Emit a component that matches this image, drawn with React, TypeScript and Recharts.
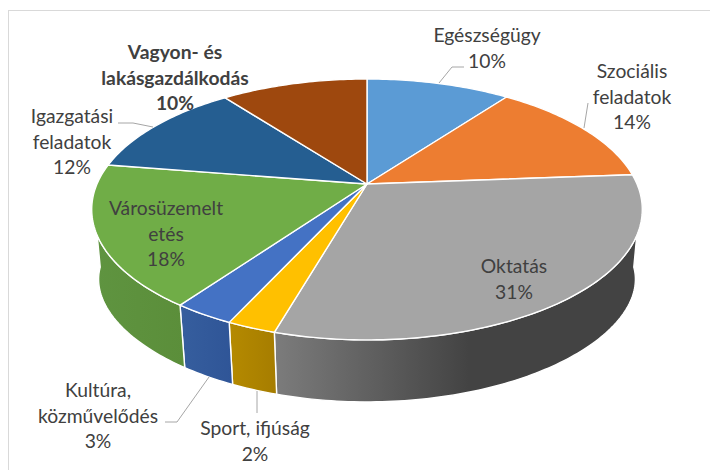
import React from 'react';
import { PieChart, Pie, Cell } from 'recharts';

const NAMES = [
  'Egészségügy',
  'Szociális feladatok',
  'Oktatás',
  'Sport, ifjúság',
  'Kultúra, közművelődés',
  'Városüzemeltetés',
  'Igazgatási feladatok',
  'Vagyon- és lakásgazdálkodás',
];
const VALUES = [10.2, 13.6, 30.7, 2.4, 3.0, 17.6, 12.1, 10.4];
const TOP_COLORS = ['#5B9BD5', '#ED7D31', '#A5A5A5', '#FFC000', '#4472C4', '#70AD47', '#255E91', '#9E480E'];

// wall shading per slice (left, right), only the front ones are ever seen
const WALL_STOPS = [
  ['#44739f', '#44739f'],
  ['#ae5a22', '#ae5a22'],
  ['#7c7c7c', '#434343'],
  ['#b58a00', '#a67d00'],
  ['#365e9e', '#2f5597'],
  ['#5f9440', '#5b8e3a'],
  ['#1b4469', '#1b4469'],
  ['#733409', '#733409'],
];

const LABEL_LINES = [
  ['Egészségügy'],
  ['Szociális', 'feladatok'],
  ['Oktatás'],
  ['Sport, ifjúság'],
  ['Kultúra,', 'közművelődés'],
  ['Városüzemelt', 'etés'],
  ['Igazgatási', 'feladatok'],
  ['Vagyon- és', 'lakásgazdálkodás'],
];
const LABEL_CENTER_X = [487, 632, 514, 255, 98, 166, 72, 175];
const LABEL_FIRST_BASELINE = [42, 78, 273, 435, 397, 215, 123, 59];
const LEADERS = [
  '464,67 452,67 439,83',
  '588,103 584,128',
  '',
  '257,391 257,413',
  '165,422 177,422 209,377',
  '',
  '118,123 133,123 153,127',
  '',
];

const CX = 367;
const CY = 184;
const RADIUS = 270;
const SQUASH_Y = 125.5;
const PERSPECTIVE = 0.195;
const DEPTH = 62;
const SIDE_DEPTH = 12;
const BOTTOM_SCALE = 0.975;
const LINE_HEIGHT = 25.7;

const chartData = NAMES.map((name, i) => ({ name, value: VALUES[i] }));

// circle angle (clockwise from 12 o'clock) to the tilted disc on screen
function project(theta: number, a: number, cx: number, cy: number) {
  const rad = (theta * Math.PI) / 180;
  const u = Math.sin(rad);
  const v = -Math.cos(rad);
  const w = 1 - PERSPECTIVE * v;
  return [cx + (a * u) / w, cy + (SQUASH_Y * v) / w];
}

function arcAngles(from: number, to: number) {
  const steps = Math.max(2, Math.ceil(Math.abs(to - from)));
  const out: number[] = [];
  for (let i = 0; i <= steps; i++) out.push(from + ((to - from) * i) / steps);
  return out;
}

const toPath = (pts: number[][]) =>
  'M' + pts.map(p => `${p[0].toFixed(2)},${p[1].toFixed(2)}`).join('L') + 'Z';

function TopSlice(props: any) {
  const { cx, cy, outerRadius, startAngle, endAngle, fill } = props;
  const arc = arcAngles(90 - startAngle, 90 - endAngle).map(t => project(t, outerRadius, cx, cy));
  return <path d={toPath([[cx, cy], ...arc])} fill={fill} stroke="#ffffff" strokeWidth={1.4} strokeLinejoin="round" />;
}

function WallSlice(props: any) {
  const { cx, cy, outerRadius, startAngle, endAngle, index } = props;
  const from = Math.max(90 - startAngle, 95);
  const to = Math.min(90 - endAngle, 265);
  if (to <= from) return null;
  const angles = arcAngles(from, to);
  const upper = angles.map(t => project(t, outerRadius, cx, cy));
  // the floor of the disc is a bit narrower and drops further at the sides
  const lower = angles
    .map((t, i) => {
      const flat = 1 - Math.abs(Math.cos((t * Math.PI) / 180));
      return [cx + (upper[i][0] - cx) * BOTTOM_SCALE, upper[i][1] + DEPTH + SIDE_DEPTH * flat * flat];
    })
    .reverse();
  const id = `wall-${index}`;
  const stops = WALL_STOPS[index];
  return (
    <g>
      <defs>
        <linearGradient id={id} x1="0" y1="0" x2="1" y2="0">
          <stop offset="0" stopColor={stops[0]} />
          <stop offset={index === 2 ? '0.53' : '1'} stopColor={stops[1]} />
          <stop offset="1" stopColor={stops[1]} />
        </linearGradient>
      </defs>
      <path d={toPath([...upper, ...lower])} fill={`url(#${id})`} stroke="#ffffff" strokeWidth={1.4} strokeLinejoin="round" />
    </g>
  );
}

function SliceLabel(props: any) {
  const { index, percent } = props;
  const lines = [...LABEL_LINES[index], `${Math.round(percent * 100)}%`];
  const bold = index === 7;
  return (
    <g>
      {LEADERS[index] && <polyline points={LEADERS[index]} fill="none" stroke="#a6a6a6" strokeWidth={1} />}
      <text
        textAnchor="middle"
        fontFamily="Lato, sans-serif"
        fontSize={19.3}
        fontWeight={bold ? 700 : 400}
        fill="#404040"
      >
        {lines.map((line, i) => (
          <tspan key={i} x={LABEL_CENTER_X[index]} y={LABEL_FIRST_BASELINE[index] + i * LINE_HEIGHT}>
            {line}
          </tspan>
        ))}
      </text>
    </g>
  );
}

export default function App() {
  return (
    <div style={{ position: 'absolute', left: 0, top: 0, width: 710, height: 470, overflow: 'hidden', background: '#fff' }}>
      <div
        style={{
          position: 'absolute',
          left: 8,
          top: 10,
          width: 720,
          height: 480,
          borderLeft: '1.5px solid #d9d9d9',
          borderTop: '1.5px solid #d9d9d9',
        }}
      />
      <div style={{ position: 'absolute', left: 0, top: 0 }}>
        <PieChart width={710} height={470} margin={{ top: 0, right: 0, bottom: 0, left: 0 }}>
          <Pie
            data={chartData}
            dataKey="value"
            nameKey="name"
            cx={CX}
            cy={CY}
            outerRadius={RADIUS}
            startAngle={90}
            endAngle={-270}
            paddingAngle={0}
            stroke="none"
            isAnimationActive={false}
            shape={WallSlice}
            inactiveShape={WallSlice}
          >
            {chartData.map((_, i) => (
              <Cell key={`wall-${i}`} fill={TOP_COLORS[i]} />
            ))}
          </Pie>
          <Pie
            data={chartData}
            dataKey="value"
            nameKey="name"
            cx={CX}
            cy={CY}
            outerRadius={RADIUS}
            startAngle={90}
            endAngle={-270}
            paddingAngle={0}
            stroke="none"
            isAnimationActive={false}
            shape={TopSlice}
            inactiveShape={TopSlice}
            label={SliceLabel}
            labelLine={false}
          >
            {chartData.map((_, i) => (
              <Cell key={`top-${i}`} fill={TOP_COLORS[i]} />
            ))}
          </Pie>
        </PieChart>
      </div>
    </div>
  );
}
